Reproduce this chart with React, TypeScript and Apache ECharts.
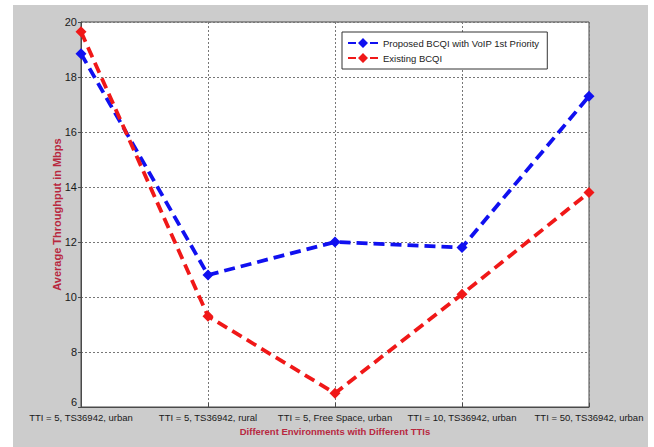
import React, { useEffect, useRef } from "react";
import * as echarts from "echarts";

// Environment / TTI scenarios along the x axis
const environments = [
  "TTI = 5, TS36942, urban",
  "TTI = 5, TS36942, rural",
  "TTI = 5, Free Space, urban",
  "TTI = 10, TS36942, urban",
  "TTI = 50, TS36942, urban",
];

// Average throughput (Mbps) per scenario
const proposedBCQI = [18.85, 10.8, 12.0, 11.8, 17.3];
const existingBCQI = [19.65, 9.3, 6.5, 10.1, 13.8];

const seriesNames = ["Proposed BCQI with VoIP 1st Priority", "Existing BCQI"];
const seriesColors = ["#1010f0", "#f01818"];

const yMin = 6;
const yMax = 20;
const yStep = 2;

const sansFont = "'Liberation Sans', Arial, sans-serif";
const titleColor = "#b8283f";

// dash - diamond - dash legend glyph
const legendIcon =
  "path://M0 4.1H8V5.9H0Z M15 0L20 5L15 10L10 5Z M22 4.1H30V5.9H22Z";

export default function App() {
  const ref = useRef<HTMLDivElement>(null);

  useEffect(() => {
    document.body.style.margin = "0";
    const chart = echarts.init(ref.current!, null, { renderer: "svg" });

    const makeSeries = (name: string, data: number[], color: string) => ({
      name,
      type: "line",
      data,
      symbol: "diamond",
      symbolSize: 11,
      clip: false,
      itemStyle: { color },
      lineStyle: { color, width: 3.8, type: [11, 6] },
    });

    chart.setOption({
      animation: false,
      backgroundColor: "#ffffff",
      graphic: [
        {
          type: "rect",
          z: -10,
          silent: true,
          shape: { x: 13, y: 5, width: 635, height: 442 },
          style: { fill: "#cccccc" },
        },
      ],
      grid: {
        left: 81,
        top: 22,
        width: 508,
        height: 385,
        show: true,
        backgroundColor: "#ffffff",
        borderColor: "#4a4a4a",
        borderWidth: 1,
      },
      legend: {
        orient: "vertical",
        left: 342,
        top: 32,
        padding: [6, 8, 6, 6],
        itemGap: 5,
        itemWidth: 30,
        itemHeight: 10,
        backgroundColor: "#ffffff",
        borderColor: "#333333",
        borderWidth: 1,
        data: seriesNames.map((n, i) => ({
          name: n,
          icon: legendIcon,
          itemStyle: { color: seriesColors[i] },
        })),
        textStyle: { fontFamily: sansFont, fontSize: 9.5, color: "#222222" },
      },
      xAxis: {
        type: "category",
        data: environments,
        boundaryGap: false,
        name: "Different Environments with Different TTIs",
        nameLocation: "middle",
        nameGap: 19,
        nameMoveOverlap: false,
        nameTextStyle: {
          fontFamily: sansFont,
          fontSize: 9.5,
          fontWeight: "bold",
          color: titleColor,
        },
        axisLine: { show: true, lineStyle: { color: "#4a4a4a", width: 1 } },
        axisTick: { show: true, inside: true, length: 4, lineStyle: { color: "#4a4a4a" } },
        axisLabel: {
          fontFamily: sansFont,
          fontSize: 9.5,
          color: "#1a1a1a",
          margin: 5,
          interval: 0,
        },
        splitLine: {
          show: true,
          lineStyle: { color: "#777777", type: [2, 2], width: 1 },
        },
      },
      yAxis: {
        type: "value",
        min: yMin,
        max: yMax,
        interval: yStep,
        name: "Average Throughput in Mbps",
        nameLocation: "middle",
        nameGap: 19,
        nameMoveOverlap: false,
        nameTextStyle: {
          fontFamily: sansFont,
          fontSize: 11,
          fontWeight: "bold",
          color: titleColor,
        },
        axisLine: { show: true, lineStyle: { color: "#4a4a4a", width: 1 } },
        axisTick: { show: true, inside: false, length: 3, lineStyle: { color: "#4a4a4a" } },
        axisLabel: {
          fontFamily: sansFont,
          fontSize: 11,
          color: "#1a1a1a",
          margin: 4,
          formatter: (v: number) => (v === yMin ? `{low|${v}}` : `${v}`),
          rich: {
            low: { fontFamily: sansFont, fontSize: 11, color: "#1a1a1a", padding: [0, 0, 10, 0] },
          },
        },
        splitLine: {
          show: true,
          lineStyle: { color: "#777777", type: [2, 2], width: 1 },
        },
      },
      series: [
        makeSeries(seriesNames[0], proposedBCQI, seriesColors[0]),
        makeSeries(seriesNames[1], existingBCQI, seriesColors[1]),
      ],
    });

    return () => chart.dispose();
  }, []);

  return <div ref={ref} style={{ width: 654, height: 447 }} />;
}
